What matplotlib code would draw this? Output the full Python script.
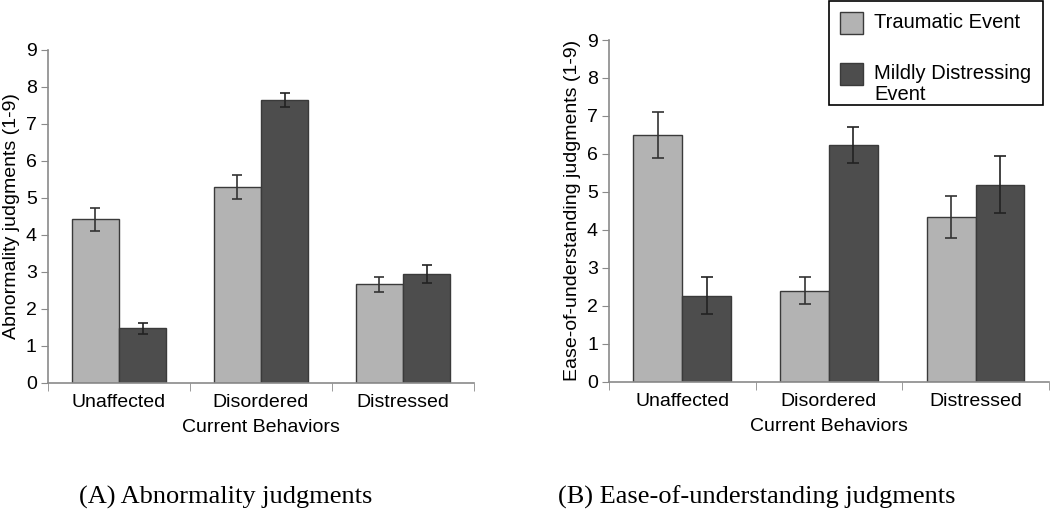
import numpy as np
import matplotlib
matplotlib.use("Agg")
from matplotlib import pyplot as plt
from matplotlib.patches import Rectangle

plt.rcParams['font.family'] = ['Liberation Sans', 'DejaVu Sans']

behaviors = ["Unaffected", "Disordered", "Distressed"]
series = ["Traumatic Event", "Mildly Distressing\nEvent"]

# panel A: abnormality judgments
abn_trauma = [4.42, 5.29, 2.67]
abn_trauma_err = [0.30, 0.32, 0.20]
abn_mild = [1.48, 7.65, 2.95]
abn_mild_err = [0.15, 0.18, 0.25]

# panel B: ease-of-understanding judgments
ease_trauma = [6.49, 2.40, 4.34]
ease_trauma_err = [0.61, 0.35, 0.56]
ease_mild = [2.26, 6.24, 5.19]
ease_mild_err = [0.49, 0.48, 0.75]

yticks = list(range(0, 10))

light = "#b3b3b3"
dark = "#4d4d4d"
edge = "#3a3a3a"
spine_col = "#8a8a8a"
W, H = 1050, 523

fig = plt.figure(figsize=(10.5, 5.23), dpi=100)
axA = fig.add_axes([0.0457, 0.2677, 0.4057, 0.6367])
axB = fig.add_axes([0.58, 0.2702, 0.419, 0.6533])


def draw(ax, t, te, m, me, ylabel, cap):
    x = np.arange(len(behaviors))
    w = 0.333
    ax.bar(x - w / 2, t, w, color=light, edgecolor=edge, linewidth=1.0,
           yerr=te, error_kw=dict(ecolor="#333333", elinewidth=1.2, capsize=cap, capthick=1.2))
    ax.bar(x + w / 2, m, w, color=dark, edgecolor=edge, linewidth=1.0,
           yerr=me, error_kw=dict(ecolor="#222222", elinewidth=1.2, capsize=cap, capthick=1.2))
    ax.set_xlim(-0.5, 2.5)
    ax.set_ylim(0, 9)
    ax.set_yticks(yticks)
    ax.set_xticks(x)
    ax.set_xticklabels(behaviors, fontsize=14)
    ax.set_xticks([-0.5, 0.5, 1.5, 2.5], minor=True)
    ax.tick_params(axis="x", which="major", length=0, pad=8)
    ax.tick_params(axis="x", which="minor", length=6, color=spine_col, direction="out")
    ax.tick_params(axis="y", length=5, color=spine_col, labelsize=14, pad=3)
    for s in ["top", "right"]:
        ax.spines[s].set_visible(False)
    for s in ["left", "bottom"]:
        ax.spines[s].set_color(spine_col)
        ax.spines[s].set_linewidth(1.2)
    ax.set_ylabel(ylabel, fontsize=14, labelpad=4)
    ax.set_xlabel("Current Behaviors", fontsize=14, labelpad=6)


draw(axA, abn_trauma, abn_trauma_err, abn_mild, abn_mild_err,
     "Abnormality judgments (1-9)", 3.5)
draw(axB, ease_trauma, ease_trauma_err, ease_mild, ease_mild_err,
     "Ease-of-understanding judgments (1-9)", 4.5)

# legend box drawn by hand (second handle sits on the first text line)
fig.add_artist(Rectangle((829 / W, 1 - 105 / H), 214 / W, 104 / H, transform=fig.transFigure,
                         facecolor="white", edgecolor="black", linewidth=1.2))
for col, top, label, ty in [(light, 12, series[0], 13), (dark, 63, series[1], 64)]:
    fig.add_artist(Rectangle((840 / W, 1 - (top + 22) / H), 23 / W, 22 / H, transform=fig.transFigure,
                             facecolor=col, edgecolor=edge, linewidth=1.0))
    fig.text(874 / W, 1 - ty / H, label, ha="left", va="top", multialignment="left",
             fontsize=14.5, linespacing=1.1)

fig.text(226 / W, 1 - 497 / H, "(A) Abnormality judgments", ha="center", va="center",
         fontsize=19, family="Liberation Serif")
fig.text(757 / W, 1 - 497 / H, "(B) Ease-of-understanding judgments", ha="center", va="center",
         fontsize=19, family="Liberation Serif")

fig.savefig("out.png", dpi=100)
